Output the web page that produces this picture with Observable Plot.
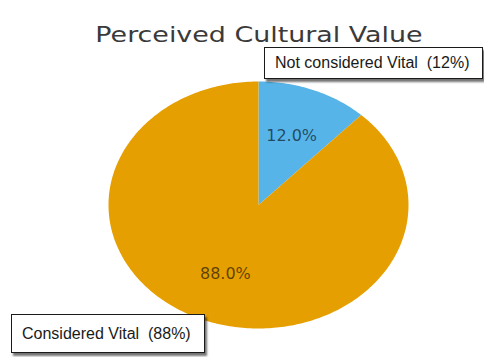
<!DOCTYPE html>
<html>
<head>
<meta charset="utf-8">
<script src="https://cdn.jsdelivr.net/npm/d3@7"></script>
<script src="https://cdn.jsdelivr.net/npm/@observablehq/plot@0.6"></script>
<style>
  body { margin: 0; background: #fff; }
  #wrap { position: relative; width: 484px; height: 357px; overflow: hidden; }
  #title { position: absolute; left: 16.5px; top: 23px; width: 484px; text-align: center;
    font-family: "DejaVu Sans", sans-serif; font-size: 21px; line-height: 24px; color: #3a3a3a;
    transform: scaleX(1.28); transform-origin: 50% 0; white-space: nowrap; }
  .box { position: absolute; background: #fff; border: 1px solid #1a1a1a;
    box-shadow: 2px 3px 2px rgba(0,0,0,0.55);
    font-family: "Liberation Sans", Arial, sans-serif; font-size: 16px; color: #1a1a1a;
    white-space: pre; box-sizing: border-box; }
  svg { position: absolute; left: 0; top: 0; }
</style>
</head>
<body>
<div id="wrap"></div>
<script>
const title = "Perceived Cultural Value";
const categories = ["Not considered Vital", "Considered Vital"];
const shares = [12, 88];
const colors = ["#56B4E9", "#E69F00"];

const total = d3.sum(shares);
const slices = [];
let acc = 0;
categories.forEach((c, i) => {
  const a0 = acc / total * 2 * Math.PI;
  acc += shares[i];
  const a1 = acc / total * 2 * Math.PI;
  slices.push({label: c, share: shares[i], a0, a1, mid: (a0 + a1) / 2, color: colors[i]});
});

// wedge outline geometry (center + sampled arc)
function wedge(s) {
  const n = Math.max(2, Math.ceil((s.a1 - s.a0) / (Math.PI / 180)));
  const pts = [{x: 0, y: 0}];
  for (let k = 0; k <= n; k++) {
    const t = s.a0 + (s.a1 - s.a0) * k / n;
    pts.push({x: Math.sin(t), y: Math.cos(t)});
  }
  pts.push({x: 0, y: 0});
  return pts;
}

const chart = Plot.plot({
  width: 484,
  height: 357,
  marginLeft: 108,
  marginRight: 76,
  marginTop: 81,
  marginBottom: 29,
  x: {domain: [-1, 1], axis: null},
  y: {domain: [-1, 1], axis: null},
  marks: [
    ...slices.map(s => Plot.line(wedge(s), {x: "x", y: "y", fill: s.color, stroke: "none", curve: "linear"})),
    Plot.text(slices, {
      x: d => 0.6 * Math.sin(d.mid),
      y: d => 0.6 * Math.cos(d.mid),
      text: d => (d.share / total * 100).toFixed(1) + "%",
      fontFamily: "DejaVu Sans",
      fontSize: 16,
      fill: "black",
      fillOpacity: 0.6
    })
  ]
});

const wrap = document.getElementById("wrap");
wrap.appendChild(chart);

const t = document.createElement("div");
t.id = "title";
t.textContent = title;
wrap.appendChild(t);

const boxes = [
  {text: `${categories[0]}  (${shares[0]}%)`, left: 264, top: 47, width: 219, height: 32, pad: 10},
  {text: `${categories[1]}  (${shares[1]}%)`, left: 11, top: 314, width: 194, height: 39, pad: 10}
];
boxes.forEach(b => {
  const el = document.createElement("div");
  el.className = "box";
  el.textContent = b.text;
  Object.assign(el.style, {
    left: b.left + "px", top: b.top + "px", width: b.width + "px", height: b.height + "px",
    lineHeight: (b.height - 2) + "px", paddingLeft: b.pad + "px"
  });
  wrap.appendChild(el);
});
</script>
</body>
</html>
